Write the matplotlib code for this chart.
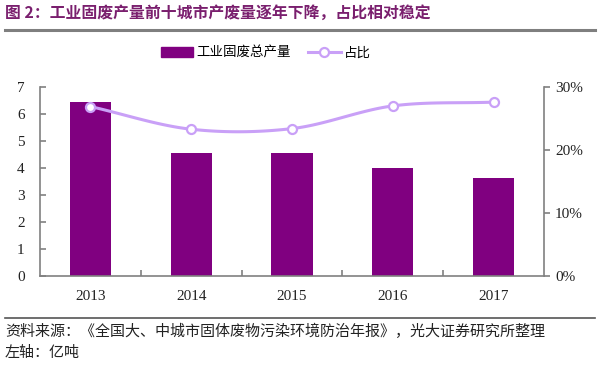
import numpy as np
import matplotlib.pyplot as plt
from matplotlib.lines import Line2D
from matplotlib.patches import Patch

plt.rcParams['font.family'] = ['Noto Sans CJK SC', 'DejaVu Sans']

years = ['2013', '2014', '2015', '2016', '2017']
total_output = [6.45, 4.54, 4.54, 4.01, 3.64]     # 亿吨
share = [26.9, 23.3, 23.4, 27.0, 27.6]           # %

bar_color = '#800080'
line_color = '#C9A0F7'
axis_gray = '#808080'
serif = ['Liberation Serif', 'DejaVu Serif']


def catmull_rom(x, y, n=30):
    # smooth curve through the points (like the "smoothed line" option in office charts)
    x = np.asarray(x, float)
    y = np.asarray(y, float)
    px = np.concatenate([[2 * x[0] - x[1]], x, [2 * x[-1] - x[-2]]])
    py = np.concatenate([[2 * y[0] - y[1]], y, [2 * y[-1] - y[-2]]])
    xs, ys = [], []
    t = np.linspace(0, 1, n)
    for i in range(1, len(px) - 2):
        for p, out in ((px, xs), (py, ys)):
            p0, p1, p2, p3 = p[i - 1], p[i], p[i + 1], p[i + 2]
            out.extend(0.5 * ((2 * p1) + (-p0 + p2) * t
                              + (2 * p0 - 5 * p1 + 4 * p2 - p3) * t ** 2
                              + (-p0 + 3 * p1 - 3 * p2 + p3) * t ** 3))
    return np.array(xs), np.array(ys)


fig = plt.figure(figsize=(6, 3.65), dpi=100)
ax = fig.add_axes([0.0667, 0.2438, 0.84, 0.5178])
ax2 = ax.twinx()

x = np.arange(len(years))
ax.bar(x, total_output, width=0.41, color=bar_color, zorder=2)
ax.set_xlim(-0.5, len(years) - 0.5)
ax.set_ylim(0, 7)
ax.set_yticks(range(0, 8))

sx, sy = catmull_rom(x, share)
ax2.plot(sx, sy, color=line_color, lw=2.2, zorder=3)
ax2.plot(x, share, 'o', ms=6.5, mfc='white', mec=line_color, mew=1.6, zorder=4)
ax2.set_ylim(0, 30)
ax2.set_yticks([0, 10, 20, 30])
ax2.set_yticklabels(['0%', '10%', '20%', '30%'])

for a in (ax, ax2):
    a.spines['top'].set_visible(False)
    for s in ('left', 'right', 'bottom'):
        a.spines[s].set_color(axis_gray)
        a.spines[s].set_linewidth(1.2)
ax2.spines['left'].set_visible(False)
ax2.spines['bottom'].set_visible(False)
ax.spines['right'].set_visible(False)

ax.set_xticks(x)
ax.set_xticklabels(years)
ax.set_xticks(np.arange(0.5, len(years) - 0.5, 1), minor=True)
ax.tick_params(axis='x', which='major', length=0, pad=10)
ax.tick_params(axis='x', which='minor', length=4, direction='in', color=axis_gray, width=1.2)
ax.tick_params(axis='y', direction='in', length=4, color=axis_gray, width=1.2, pad=11)
ax2.tick_params(axis='y', direction='out', length=4, color=axis_gray, width=1.2, pad=4)
for lab in ax.get_xticklabels() + ax.get_yticklabels() + ax2.get_yticklabels():
    lab.set_family(serif)
    lab.set_fontsize(11)
    lab.set_color('#222222')

# legend
handles = [Patch(facecolor=bar_color, edgecolor=bar_color),
           Line2D([0], [0], color=line_color, lw=2.2, marker='o', ms=6.5,
                  mfc='white', mec=line_color, mew=1.6)]
fig.legend(handles, ['工业固废总产量', '占比'], loc='center', bbox_to_anchor=(0.443, 0.855),
           ncol=2, frameon=False, fontsize=9.7, handlelength=2.4, handleheight=0.8,
           handletextpad=0.25, columnspacing=1.3)

# title and rules
fig.text(0.008, 0.965, '图 2：工业固废产量前十城市产废量逐年下降，占比相对稳定',
         fontsize=11.4, fontweight='bold', color='#7A1F6E', va='center', ha='left')
fig.add_artist(Line2D([0.008, 0.992], [0.918, 0.918], color='#7f7f7f', lw=2.2,
                      transform=fig.transFigure))
fig.add_artist(Line2D([0.008, 0.992], [0.129, 0.129], color='#555555', lw=1.2,
                      transform=fig.transFigure))
fig.text(0.008, 0.093, '资料来源：《全国大、中城市固体废物污染环境防治年报》，光大证券研究所整理',
         fontsize=10.8, color='#222222', va='center', ha='left')
fig.text(0.008, 0.033, '左轴：亿吨', fontsize=10.8, color='#222222', va='center', ha='left')

fig.savefig('out.png', dpi=100)
